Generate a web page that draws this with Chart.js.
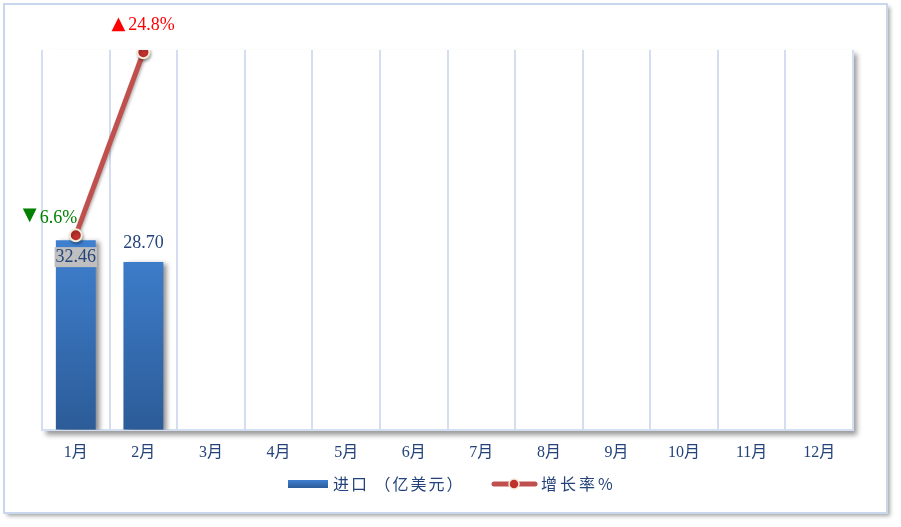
<!DOCTYPE html>
<html><head><meta charset="utf-8">
<script src="https://cdn.jsdelivr.net/npm/chart.js@4.4.0/dist/chart.umd.min.js"></script>
<style>html,body{margin:0;padding:0;background:#fff}canvas{display:block}</style>
</head><body>
<canvas id="c" width="901" height="527"></canvas>
<script>
const months = ['1月','2月','3月','4月','5月','6月','7月','8月','9月','10月','11月','12月'];
const imports = [32.46, 28.70, null, null, null, null, null, null, null, null, null, null];
const growth = [-6.6, 24.8, null, null, null, null, null, null, null, null, null, null];
const seriesNames = ['进口 （亿美元）', '增长率%'];

const serif = '"Liberation Serif", "Noto Sans CJK SC", serif';
const cjk = '"Noto Sans CJK SC", sans-serif';
const textBlue = '#24437a';

function barGradient(ctx, top, bottom) {
  const g = ctx.createLinearGradient(0, top, 0, bottom);
  g.addColorStop(0, '#3f80d0');
  g.addColorStop(1, '#2c5c98');
  return g;
}

const framePlugin = {
  id: 'frame',
  beforeDraw(chart) {
    const ctx = chart.ctx, a = chart.chartArea;
    ctx.save();
    ctx.fillStyle = '#fff'; ctx.fillRect(0, 0, chart.width, chart.height);
    ctx.shadowColor = 'rgba(0,0,0,0.35)'; ctx.shadowBlur = 4; ctx.shadowOffsetX = 3; ctx.shadowOffsetY = 3;
    ctx.fillStyle = '#fff'; ctx.fillRect(4, 4, 883, 509);
    ctx.shadowColor = 'transparent';
    ctx.strokeStyle = '#c8d7eb'; ctx.lineWidth = 2; ctx.strokeRect(4, 4, 883, 509);
    ctx.shadowColor = 'rgba(0,0,0,0.4)'; ctx.shadowBlur = 5; ctx.shadowOffsetX = 4; ctx.shadowOffsetY = 4;
    ctx.fillStyle = '#fff'; ctx.fillRect(a.left, a.top, a.right - a.left, a.bottom - a.top + 1);
    ctx.restore();
  }
};

const shadowPlugin = {
  id: 'dsShadow',
  beforeDatasetDraw(chart, args) {
    const ctx = chart.ctx; ctx.save();
    if (args.index === 0) {
      ctx.shadowColor = 'rgba(0,0,0,0.45)'; ctx.shadowBlur = 5; ctx.shadowOffsetX = 4; ctx.shadowOffsetY = 2;
    } else {
      ctx.shadowColor = 'rgba(0,0,0,0.3)'; ctx.shadowBlur = 3; ctx.shadowOffsetX = 1; ctx.shadowOffsetY = 2;
    }
  },
  afterDatasetDraw(chart) { chart.ctx.restore(); }
};

const labelPlugin = {
  id: 'labels',
  afterDatasetsDraw(chart) {
    const ctx = chart.ctx;
    ctx.save();
    ctx.font = '18px ' + serif; ctx.textAlign = 'center'; ctx.textBaseline = 'middle';
    const bm = chart.getDatasetMeta(0);
    bm.data.forEach((el, i) => {
      const v = imports[i]; if (v == null) return;
      const t = v.toFixed(2);
      if (i === 0) {
        const w = ctx.measureText(t).width + 2;
        const y = el.y + 17;
        ctx.fillStyle = '#bfbfbf'; ctx.fillRect(el.x - w / 2, y - 10, w, 20);
        ctx.fillStyle = textBlue; ctx.fillText(t, el.x, y);
      } else {
        ctx.fillStyle = textBlue; ctx.fillText(t, el.x, el.y - 19);
      }
    });
    const lm = chart.getDatasetMeta(1);
    lm.data.forEach((el, i) => {
      const v = growth[i]; if (v == null) return;
      const up = v >= 0;
      const num = Math.abs(v).toFixed(1) + '%';
      const tri = up ? '▲' : '▼';
      ctx.fillStyle = up ? '#ff0000' : '#008000';
      ctx.font = '18px "DejaVu Sans"';
      const tw = ctx.measureText(tri).width;
      let x0, y;
      if (up) { x0 = el.x - 31; y = el.y - 27; }
      else { x0 = el.x - 52; y = el.y - 17; }
      ctx.textAlign = 'left';
      ctx.fillText(tri, x0 - 1, up ? y - 1 : y - 3);
      ctx.font = '18px ' + serif;
      ctx.fillText(num, x0 + tw + 2, y);
    });
    ctx.restore();
  }
};

const legendPlugin = {
  id: 'customLegend',
  afterDraw(chart) {
    const ctx = chart.ctx;
    const cy = 484;
    ctx.save();
    ctx.fillStyle = barGradient(ctx, cy - 4, cy + 4);
    ctx.fillRect(288, cy - 4, 40, 8);
    ctx.font = '16px ' + cjk; ctx.textBaseline = 'middle'; ctx.textAlign = 'left';
    ctx.fillStyle = textBlue;
    try { ctx.letterSpacing = '2px'; } catch (e) {}
    ctx.fillText(seriesNames[0], 333, cy);
    ctx.letterSpacing = '0px';
    ctx.strokeStyle = '#c0504d'; ctx.lineWidth = 5; ctx.lineCap = 'round';
    ctx.beginPath(); ctx.moveTo(494, cy); ctx.lineTo(535, cy); ctx.stroke();
    ctx.beginPath(); ctx.arc(514, cy, 5, 0, Math.PI * 2); ctx.fillStyle = '#c0302c'; ctx.fill();
    ctx.lineWidth = 1.5; ctx.strokeStyle = '#f3ead8'; ctx.stroke();
    ctx.fillStyle = textBlue;
    try { ctx.letterSpacing = '3px'; } catch (e) {}
    ctx.fillText(seriesNames[1], 541, cy);
    ctx.restore();
  }
};

new Chart(document.getElementById('c'), {
  data: {
    labels: months,
    datasets: [
      {
        type: 'bar', label: seriesNames[0], data: imports, yAxisID: 'y', order: 2,
        backgroundColor: (c) => c.chart.chartArea ? barGradient(c.chart.ctx, c.chart.chartArea.top + 190, c.chart.chartArea.bottom) : '#3a74bf',
        categoryPercentage: 1, barPercentage: 0.59
      },
      {
        type: 'line', label: seriesNames[1], data: growth, yAxisID: 'y1', order: 1,
        borderColor: '#c0504d', borderWidth: 5, spanGaps: false,
        pointRadius: 6, pointBackgroundColor: '#c0302c', pointBorderColor: '#f3ead8', pointBorderWidth: 2,
        pointHoverRadius: 6
      }
    ]
  },
  options: {
    responsive: false, animation: false, devicePixelRatio: 1,
    layout: { padding: { left: 42, right: 48, top: 50, bottom: 52 } },
    scales: {
      x: {
        grid: { offset: true, color: '#d3dff0', lineWidth: 2, drawTicks: false },
        border: { color: '#d3dff0', width: 2 },
        ticks: { padding: 13, color: textBlue, font: { family: serif, size: 16 } }
      },
      y: { display: false, min: 0, max: 65 },
      y1: { display: false, min: -40, max: 25.2, position: 'right' }
    },
    plugins: {
      tooltip: { enabled: false },
      legend: { display: false }
    }
  },
  plugins: [framePlugin, shadowPlugin, labelPlugin, legendPlugin]
});
</script>
</body></html>
